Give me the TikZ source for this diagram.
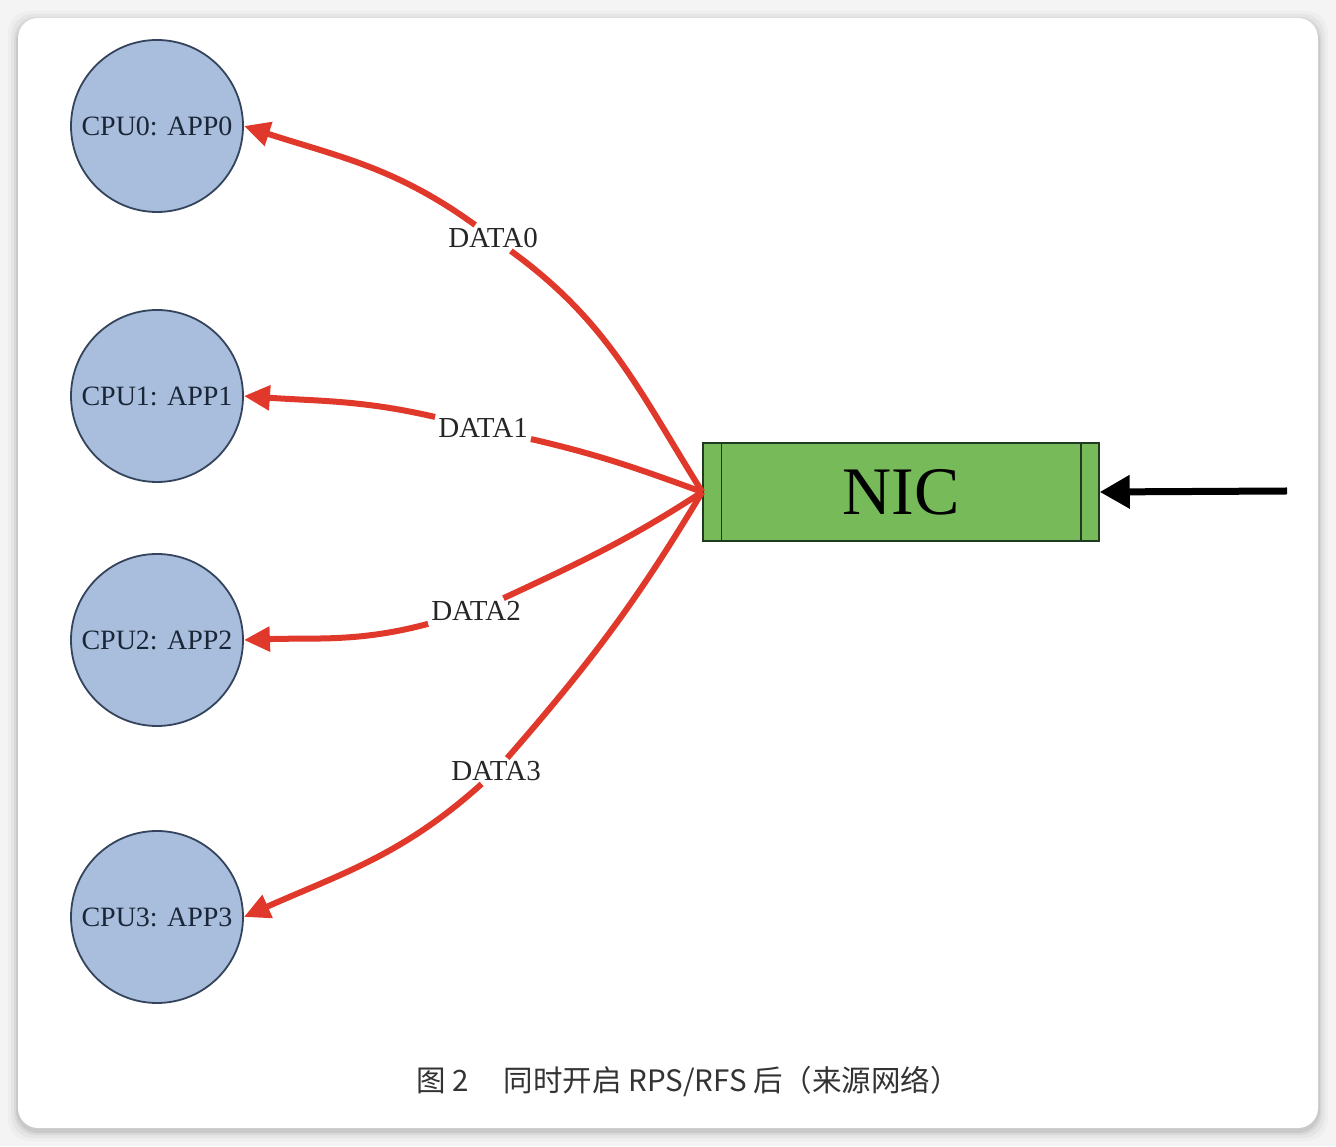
\documentclass[tikz,border=0pt]{standalone}
\usepackage{fontspec}
\setmainfont{Liberation Serif}
\newfontfamily\cjk{Noto Sans CJK SC}
\usetikzlibrary{arrows.meta, positioning}
\definecolor{Page_Gray}{HTML}{F4F4F4}
\definecolor{CPU_Blue}{HTML}{A8BEDC}
\definecolor{CPU_Edge}{HTML}{34445C}
\definecolor{CPU_Text}{HTML}{1A2638}
\definecolor{NIC_Green}{HTML}{76BA5A}
\definecolor{NIC_Edge}{HTML}{1F3A1F}
\definecolor{Flow_Red}{HTML}{E0392B}
\definecolor{Caption_Gray}{HTML}{333333}

\begin{document}
\begin{tikzpicture}[
    x=1pt, y=1pt,
    cpu/.style={circle, minimum size=172pt, draw=CPU_Edge, line width=1.8pt, fill=CPU_Blue, text=CPU_Text, font=\fontsize{28}{30}\selectfont, inner sep=0pt},
    nicbox/.style={rectangle, minimum width=396pt, minimum height=98pt, draw=NIC_Edge, line width=1.5pt, fill=NIC_Green, font=\fontsize{68}{70}\selectfont},
    datalbl/.style={font=\fontsize{29}{31}\selectfont, text=black!85, inner sep=3pt},
    flow/.style={draw=Flow_Red, line width=6pt, -{Triangle[length=26pt, width=24pt]}},
    feed/.style={draw=black, line width=7pt, -{Triangle[length=30pt, width=32pt]}}
]
\useasboundingbox (0,0) rectangle (1336,1146);
\fill[Page_Gray] (0,0) rectangle (1336,1146);
\foreach \s/\o in {10/0.025, 7/0.035, 4/0.05, 2/0.07} {
  \fill[black, opacity=\o, rounded corners=22pt] (18-\s,18-\s-3) rectangle (1318+\s,1128+\s-3);
}
\fill[white, rounded corners=20pt] (18,18) rectangle (1318,1128);

\node[cpu] (cpu0) at (157,1020) {CPU0: APP0};
\node[cpu] (cpu1) at (157,750) {CPU1: APP1};
\node[cpu] (cpu2) at (157,506) {CPU2: APP2};
\node[cpu] (cpu3) at (157,229) {CPU3: APP3};

\node[nicbox] (nic) at (901,654) {NIC};
\draw[NIC_Edge, line width=1.5pt] ([xshift=19pt]nic.north west) -- ([xshift=19pt]nic.south west);
\draw[NIC_Edge, line width=1.5pt] ([xshift=-19pt]nic.north east) -- ([xshift=-19pt]nic.south east);

\node[datalbl] (d0) at (493,908) {DATA0};
\node[datalbl] (d1) at (483,718) {DATA1};
\node[datalbl] (d2) at (476,535) {DATA2};
\node[datalbl] (d3) at (496,375) {DATA3};

\coordinate (wire) at (1287,655);
\draw[feed] (wire) -- (nic.east);

\draw[flow] (nic.west) to[out=122, in=-36] (d0) to[out=144, in=-18] (cpu0.east);
\draw[flow] (nic.west) to[out=160, in=-13] (d1) to[out=167, in=-4] (cpu1.east);
\draw[flow] (nic.west) to[out=-147, in=25] (d2) to[out=195, in=2] (cpu2.east);
\draw[flow] (nic.west) to[out=-121, in=49] (d3) to[out=222, in=24] (cpu3.east);

\node[font=\cjk\fontsize{29.5}{32}\selectfont, text=Caption_Gray] (cap) at (688,64) {图 2\hspace{1.2em}同时开启 RPS/RFS 后（来源网络）};
\end{tikzpicture}
\end{document}
